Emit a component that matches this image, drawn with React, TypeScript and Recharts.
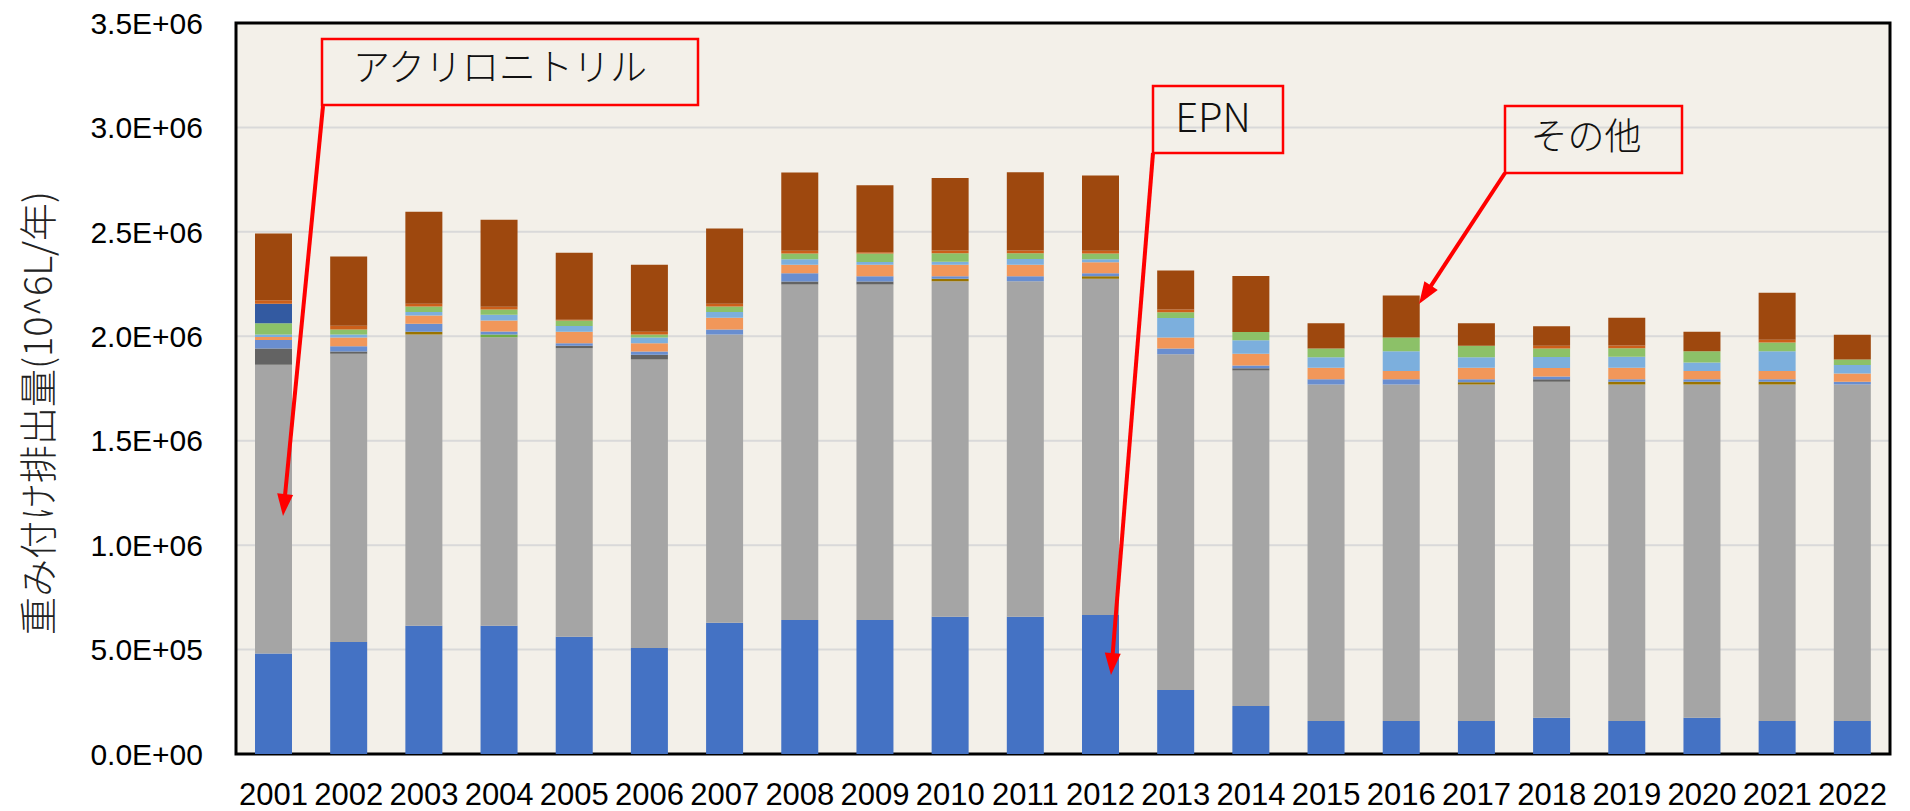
import { BarChart, Bar, XAxis, YAxis, CartesianGrid, ReferenceArea } from 'recharts';

// values in thousand (10^3) units
const years = [
  '2001', '2002', '2003', '2004', '2005', '2006', '2007', '2008', '2009', '2010', '2011',
  '2012', '2013', '2014', '2015', '2016', '2017', '2018', '2019', '2020', '2021', '2022',
];
const epn = [481, 536, 614, 614, 561, 508, 628, 642, 642, 657, 657, 666, 307, 230, 158, 158, 158, 173, 158, 173, 158, 158];
const acrylonitrile = [1383, 1380, 1395, 1381, 1382, 1381, 1381, 1606, 1606, 1606, 1606, 1610, 1607, 1606, 1611, 1611, 1611, 1609, 1611, 1596, 1611, 1611];
const darkGray = [78, 11, 0, 0, 12, 22, 0, 14, 14, 0, 0, 0, 0, 11, 0, 0, 0, 12, 0, 0, 0, 0];
const olive = [0, 0, 13, 0, 0, 0, 0, 0, 0, 13, 0, 12, 0, 0, 0, 0, 11, 0, 13, 13, 13, 0];
const green = [0, 0, 0, 14, 0, 0, 0, 0, 0, 0, 0, 0, 0, 0, 0, 0, 0, 0, 0, 0, 0, 0];
const midBlue = [40, 25, 38, 14, 12, 16, 24, 40, 25, 12, 25, 14, 27, 13, 25, 25, 14, 14, 12, 12, 12, 13];
const orange = [14, 42, 40, 53, 55, 40, 56, 40, 55, 55, 55, 53, 53, 56, 55, 40, 55, 40, 55, 40, 40, 40];
const lightBlue = [13, 14, 16, 27, 27, 27, 27, 27, 14, 14, 27, 14, 94, 65, 51, 94, 51, 53, 53, 40, 94, 40];
const lightGreen = [54, 25, 27, 25, 27, 14, 27, 27, 40, 40, 27, 27, 27, 40, 42, 66, 55, 41, 41, 54, 42, 27];
const darkBlue = [93, 0, 0, 0, 0, 0, 0, 0, 0, 0, 0, 0, 0, 0, 0, 0, 0, 0, 0, 0, 0, 0];
const darkOrange = [16, 18, 13, 14, 3, 14, 13, 14, 6, 14, 14, 14, 13, 0, 0, 0, 0, 13, 13, 0, 13, 0];
const others = [320, 331, 440, 416, 321, 320, 360, 374, 321, 347, 374, 360, 187, 268, 120, 201, 107, 93, 133, 94, 225, 118];

const yTicks = [0, 500000, 1000000, 1500000, 2000000, 2500000, 3000000, 3500000];

const series = [
  { key: 'epn', values: epn, color: '#4472C4' },
  { key: 'acrylonitrile', values: acrylonitrile, color: '#A5A5A5' },
  { key: 'darkGray', values: darkGray, color: '#636363' },
  { key: 'olive', values: olive, color: '#997300' },
  { key: 'green', values: green, color: '#70AD47' },
  { key: 'midBlue', values: midBlue, color: '#698ED0' },
  { key: 'orange', values: orange, color: '#F1975A' },
  { key: 'lightBlue', values: lightBlue, color: '#7CAFDD' },
  { key: 'lightGreen', values: lightGreen, color: '#8CC168' },
  { key: 'darkBlue', values: darkBlue, color: '#335AA1' },
  { key: 'darkOrange', values: darkOrange, color: '#CC5F1A' },
  { key: 'others', values: others, color: '#9E480E' },
];

const data = years.map((year, i) => {
  const row: Record<string, string | number> = { year };
  series.forEach((s) => {
    row[s.key] = s.values[i] * 1000;
  });
  return row;
});

function sci(v: number) {
  const [m, e] = v.toExponential(1).split('e');
  const sign = e[0] === '-' ? '-' : '+';
  const exp = e.replace(/^[+-]/, '').padStart(2, '0');
  return `${m}E${sign}${exp}`;
}

const jp = '"Noto Sans CJK JP", "Noto Sans", sans-serif';
const sans = '"Liberation Sans", Arial, sans-serif';

// callouts: box [x, y, w, h], text baseline, arrow from box corner to tip
const callouts = [
  { text: 'アクリロニトリル', box: [322, 39, 376, 66], tx: 500, ty: 81, size: 37, from: [323, 106], to: [283, 516] },
  { text: 'EPN', box: [1153, 86, 130, 67], tx: 1213, ty: 132, size: 40, from: [1153, 153], to: [1111, 675] },
  { text: 'その他', box: [1505, 106, 177, 67], tx: 1586, ty: 150, size: 37, from: [1505, 173], to: [1419, 304] },
];

function Arrow({ from, to }: { from: number[]; to: number[] }) {
  const [x1, y1] = from;
  const [x2, y2] = to;
  const dx = x2 - x1;
  const dy = y2 - y1;
  const len = Math.sqrt(dx * dx + dy * dy);
  const ux = dx / len;
  const uy = dy / len;
  const head = 22;
  const half = 8;
  const bx = x2 - ux * head;
  const by = y2 - uy * head;
  const pts = [
    [x2, y2],
    [bx - uy * half, by + ux * half],
    [bx + uy * half, by - ux * half],
  ];
  return (
    <g>
      <line x1={x1} y1={y1} x2={bx + ux * 2} y2={by + uy * 2} stroke="#FF0000" strokeWidth={4} />
      <polygon points={pts.map((p) => p.join(',')).join(' ')} fill="#FF0000" />
    </g>
  );
}

export default function App() {
  return (
    <div style={{ position: 'absolute', left: 0, top: 0, width: 1910, height: 811, background: '#fff' }}>
      <BarChart
        width={1910}
        height={811}
        data={data}
        margin={{ top: 23, right: 20, bottom: 0, left: 0 }}
        barSize={37}
      >
        <CartesianGrid vertical={false} stroke="#D9D9D9" strokeWidth={2} fill="#F3F0E9" />
        <XAxis
          dataKey="year"
          height={57}
          axisLine={false}
          tickLine={false}
          tickSize={0}
          tickMargin={29}
          interval={0}
          tick={{ fontFamily: sans, fontSize: 31, fill: '#000' }}
        />
        <YAxis
          width={236}
          domain={[0, 3500000]}
          ticks={yTicks}
          tickFormatter={sci}
          axisLine={false}
          tickLine={false}
          tickSize={0}
          tickMargin={33}
          tick={{ fontFamily: sans, fontSize: 30, fill: '#000' }}
        />
        {series.map((s) => (
          <Bar key={s.key} dataKey={s.key} stackId="a" fill={s.color} isAnimationActive={false} />
        ))}
        <ReferenceArea y1={0} y2={3500000} fill="none" stroke="#000" strokeWidth={3} fillOpacity={0} ifOverflow="visible" />
      </BarChart>
      <svg width={1910} height={811} style={{ position: 'absolute', left: 0, top: 0, pointerEvents: 'none' }}>
        <text
          x={35}
          y={413}
          transform="rotate(-90, 35, 413)"
          textAnchor="middle"
          dominantBaseline="central"
          fontFamily={jp}
          fontWeight={300}
          fontSize={38}
          fill="#222"
        >
          重み付け排出量(10^6L/年)
        </text>
        {callouts.map((c) => (
          <g key={c.text}>
            <rect x={c.box[0]} y={c.box[1]} width={c.box[2]} height={c.box[3]} fill="none" stroke="#FF0000" strokeWidth={2.5} />
            <text x={c.tx} y={c.ty} textAnchor="middle" fontFamily={jp} fontWeight={300} fontSize={c.size} fill="#111">
              {c.text}
            </text>
            <Arrow from={c.from} to={c.to} />
          </g>
        ))}
      </svg>
    </div>
  );
}
